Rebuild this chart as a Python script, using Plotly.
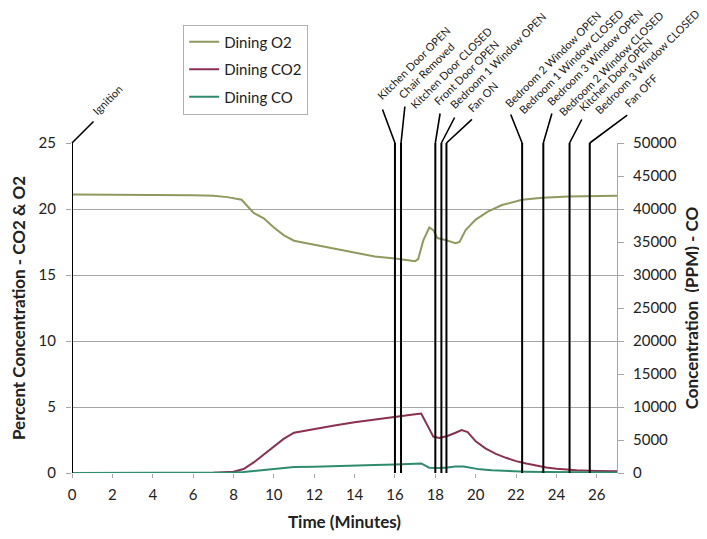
import plotly.graph_objects as go

o2_time = [0, 2, 4, 6, 7, 7.7, 8.4, 8.7, 9.0, 9.5, 10.0, 10.5, 11.0, 11.5, 12, 13, 14, 15,
           16, 16.5, 17.0, 17.15, 17.4, 17.7, 17.9, 18.1, 18.5, 19.0, 19.2, 19.5, 20.0,
           20.6, 21.3, 22.3, 23.3, 24.6, 26, 27]
o2_pct = [21.1, 21.1, 21.1, 21.05, 21.0, 20.9, 20.7, 20.2, 19.7, 19.3, 18.6, 18.0, 17.6,
          17.45, 17.3, 17.0, 16.75, 16.4, 16.25, 16.15, 16.05, 16.2, 17.6, 18.6, 18.4, 17.8,
          17.65, 17.4, 17.5, 18.4, 19.2, 19.8, 20.3, 20.7, 20.85, 20.95, 21.0, 21.0]

co2_time = [0, 2, 4, 6, 7, 8, 8.5, 9.0, 9.5, 10.0, 10.5, 11.0, 11.5, 12, 13, 14, 15, 16,
            16.5, 17.0, 17.3, 17.6, 17.9, 18.2, 18.6, 19.0, 19.3, 19.6, 20.0, 20.5, 21.0,
            21.5, 22, 22.5, 23, 23.5, 24, 24.5, 25, 26, 27]
co2_pct = [0, 0, 0, 0, 0.02, 0.1, 0.3, 0.8, 1.4, 2.0, 2.6, 3.05, 3.2, 3.35, 3.6, 3.85, 4.05,
           4.3, 4.4, 4.45, 4.5, 3.6, 2.75, 2.65, 2.8, 3.05, 3.25, 3.1, 2.4, 1.85, 1.45, 1.15,
           0.9, 0.72, 0.55, 0.42, 0.32, 0.25, 0.2, 0.16, 0.14]

co_time = [0, 6, 7.5, 8, 8.5, 9, 9.5, 10, 10.5, 11, 12, 13, 14, 15, 16, 17, 17.3, 17.7,
           18.2, 18.6, 19.0, 19.4, 19.8, 20.2, 20.8, 21.5, 22.5, 23.5, 25, 27]
co_ppm = [0, 0, 20, 60, 150, 300, 500, 700, 850, 900, 950, 1000, 1100, 1200, 1300, 1400,
          1450, 800, 750, 850, 1000, 1000, 800, 550, 400, 300, 200, 150, 100, 80]

# ------------------------------- event markers ------------------------------- #
line_time = [0, 16.0, 16.3, 18.0, 18.3, 18.55, 22.3, 23.35, 24.65, 25.65]
# leader end, px offset from top of each event line
leader_dx = [23, -13, 4, 5, 14, 27, -12, 9, 13, 39]
leader_dy = [-23, -35, -38, -31, -27, -25, -30, -31, -25, -29]

label_line = [0, 1, 2, 2, 3, 4, 5, 6, 6, 7, 7, 8, 8, 9]
label_text = ["Ignition", "Kitchen Door OPEN", "Chair Removed", "Kitchen Door CLOSED",
              "Front Door OPEN", "Bedroom 1 Window OPEN", "Fan ON",
              "Bedroom 2 Window OPEN", "Bedroom 1 Window CLOSED",
              "Bedroom 3 Window OPEN", "Bedroom 2 Window CLOSED",
              "Kitchen Door OPEN", "Bedroom 3 Window CLOSED", "Fan OFF"]
# label box corner, px offset from top of its event line
label_dx = [15, -23, -8, 4, -7, 3, 16, -23, -9, -2, 10, 4, 20, 29]
label_dy = [-23, -38, -39, -30, -33, -29, -26, -30, -24, -32, -22, -26, -24, -31]

FONT = "Lato"
GRID = "#a6a6a6"

fig = go.Figure()

fig.add_trace(go.Scatter(x=o2_time, y=o2_pct, name="Dining O2", legendgroup="a",
                         mode="lines", line=dict(color="#8f9a5e", width=2)))
fig.add_trace(go.Scatter(x=co2_time, y=co2_pct, name="Dining CO2", legendgroup="b",
                         mode="lines", line=dict(color="#8b3050", width=2)))
fig.add_trace(go.Scatter(x=co_time, y=co_ppm, name="Dining CO", legendgroup="c",
                         mode="lines", line=dict(color="#2e8b6e", width=2), yaxis="y2"))

# vertical event lines
for t in line_time:
    fig.add_shape(type="line", xref="x", yref="y", x0=t, x1=t, y0=0, y1=25,
                  line=dict(color="black", width=2))

# leader lines
for t, dx, dy in zip(line_time, leader_dx, leader_dy):
    fig.add_annotation(x=t, y=25, xref="x", yref="y", text="", showarrow=True,
                       arrowhead=0, arrowwidth=1.6, arrowcolor="black",
                       ax=dx, ay=dy, standoff=0, startstandoff=0)

# rotated labels
for i, txt in enumerate(label_text):
    fig.add_annotation(x=line_time[label_line[i]], y=25, xref="x", yref="y",
                       text=txt, showarrow=False, textangle=-45,
                       xanchor="left", yanchor="bottom",
                       xshift=label_dx[i], yshift=-label_dy[i],
                       font=dict(family=FONT, size=11, color="#222"))

# page body has an 8px margin -> figure is a bit smaller and offset
fig.update_layout(
    width=699, height=531,
    margin=dict(l=64, r=90, t=135, b=66),
    paper_bgcolor="white", plot_bgcolor="white",
    font=dict(family=FONT, size=15, color="#222"),
    showlegend=True,
    legend=dict(x=0.204, y=1.359, xanchor="left", yanchor="top",
                bordercolor="#b0b0b0", borderwidth=1, bgcolor="white",
                tracegroupgap=5, traceorder="grouped",
                font=dict(family=FONT, size=15, color="#222")),
    xaxis=dict(range=[0, 27], dtick=2, tick0=0, showgrid=False, zeroline=False,
               ticks="outside", ticklen=4, tickcolor=GRID, ticklabelstandoff=4,
               showline=False, tickfont=dict(size=15), automargin=False,
               title=dict(text="<b>Time (Minutes)</b>", standoff=14,
                          font=dict(family=FONT, size=17))),
    yaxis=dict(range=[0, 25], dtick=5, showgrid=True, gridcolor=GRID, gridwidth=1,
               zeroline=False, ticks="outside", ticklen=5, tickcolor=GRID,
               ticklabelstandoff=7, tickfont=dict(size=15), automargin=False,
               title=dict(text="<b>Percent Concentration - CO2 &amp; O2</b>", standoff=8,
                          font=dict(family=FONT, size=17))),
    yaxis2=dict(range=[0, 50000], dtick=5000, tickformat="d", overlaying="y", side="right",
                showgrid=False, zeroline=False, showline=True, linecolor=GRID,
                ticks="outside", ticklen=6, tickcolor=GRID, ticklabelstandoff=6,
                tickfont=dict(size=15), automargin=False,
                title=dict(text="<b>Concentration  (PPM) - CO</b>", standoff=10,
                           font=dict(family=FONT, size=17))),
)

fig.write_html("out.html")
